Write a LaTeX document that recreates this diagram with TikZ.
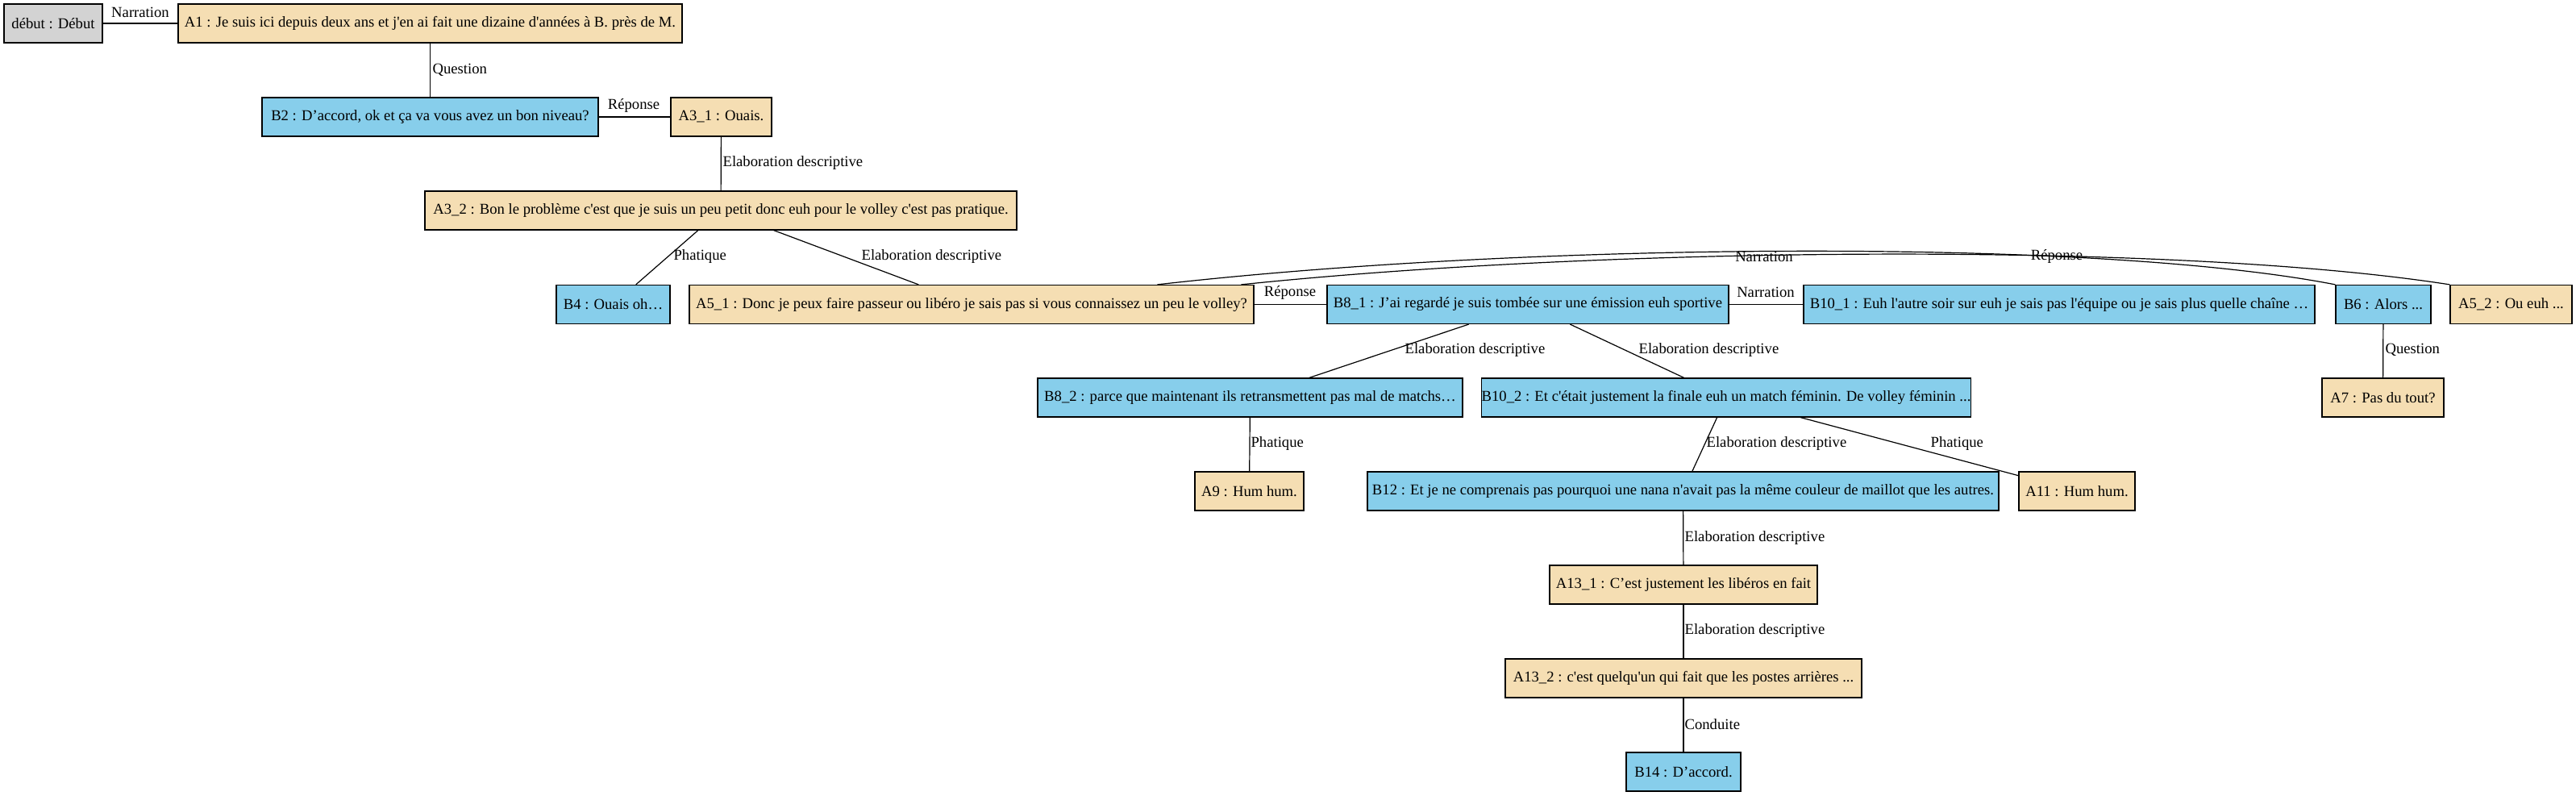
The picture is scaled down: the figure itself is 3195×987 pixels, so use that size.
\documentclass[tikz,border=0pt]{standalone}
\usepackage{fontspec}
\setmainfont{Liberation Serif}[Ligatures=TeXOff]
\usetikzlibrary{calc}
\definecolor{wheatc}{HTML}{F5DEB3}
\definecolor{skyc}{HTML}{87CEEB}
\definecolor{grayc}{HTML}{D3D3D3}
\begin{document}
\begin{tikzpicture}[x=0.75pt,y=-0.75pt,
  base/.style={draw=black, line width=0.9pt, minimum height=36pt, inner sep=0pt, font=\fontsize{14pt}{16pt}\selectfont, anchor=center},
  abox/.style={base, fill=wheatc},
  bbox/.style={base, fill=skyc},
  gbox/.style={base, fill=grayc},
  lbl/.style={inner sep=0pt, font=\fontsize{14pt}{16pt}\selectfont},
  edge/.style={draw=black, line width=0.9pt}]
\useasboundingbox (0,0) rectangle (3195,987);
% nodes
\node[gbox, minimum width=91.5pt] (debut) at (66,29) {début : Début};
\node[abox, minimum width=468.75pt] (A1) at (533.5,29) {A1 : Je suis ici depuis deux ans et j'en ai fait une dizaine d'années à B. près de M.};
\node[bbox, minimum width=312.75pt] (B2) at (533.5,145) {B2 : D’accord, ok et ça va vous avez un bon niveau?};
\node[abox, minimum width=93.75pt] (A31) at (894.5,145) {A3\_1 : Ouais.};
\node[abox, minimum width=550.5pt] (A32) at (894,261) {A3\_2 : Bon le problème c'est que je suis un peu petit donc euh pour le volley c'est pas pratique.};
\node[bbox, minimum width=105.75pt] (B4) at (760.5,377.5) {B4 : Ouais oh…};
\node[abox, minimum width=525pt] (A51) at (1205,377.5) {A5\_1 : Donc je peux faire passeur ou libéro je sais pas si vous connaissez un peu le volley?};
\node[bbox, minimum width=373.5pt] (B81) at (1895,377.5) {B8\_1 : J’ai regardé je suis tombée sur une émission euh sportive};
\node[bbox, minimum width=475.5pt] (B101) at (2554,377.5) {B10\_1 : Euh l'autre soir sur euh je sais pas l'équipe ou je sais plus quelle chaîne …};
\node[bbox, minimum width=88.5pt] (B6) at (2956,377.5) {B6 : Alors ...};
\node[abox, minimum width=113.25pt] (A52) at (3114.5,377.5) {A5\_2 : Ou euh ...};
\node[abox, minimum width=113.25pt] (A7) at (2955.5,493) {A7 : Pas du tout?};
\node[bbox, minimum width=395.25pt] (B82) at (1550.5,493) {B8\_2 : parce que maintenant ils retransmettent pas mal de matchs…};
\node[bbox, minimum width=454.5pt] (B102) at (2141,493) {B10\_2 : Et c'était justement la finale euh un match féminin. De volley féminin ...};
\node[abox, minimum width=101.25pt] (A9) at (1549.5,609) {A9 : Hum hum.};
\node[bbox, minimum width=587.25pt] (B12) at (2087.5,609) {B12 : Et je ne comprenais pas pourquoi une nana n'avait pas la même couleur de maillot que les autres.};
\node[abox, minimum width=108pt] (A11) at (2576,609) {A11 : Hum hum.};
\node[abox, minimum width=249pt] (A131) at (2088,725) {A13\_1 : C’est justement les libéros en fait};
\node[abox, minimum width=331.5pt] (A132) at (2088,841) {A13\_2 : c'est quelqu'un qui fait que les postes arrières ...};
\node[bbox, minimum width=106.5pt] (B14) at (2088,957) {B14 : D’accord.};
% edges
\draw[edge] (debut) -- (A1) node[lbl] at (174,15) {Narration};
\draw[edge] (A1) -- (B2) node[lbl, anchor=west] at (536,87) {Question};
\draw[edge] (B2) -- (A31) node[lbl] at (786,131) {Réponse};
\draw[edge] (A31) -- (A32) node[lbl, anchor=west] at (896,202) {Elaboration descriptive};
\draw[edge] (A32) -- (B4) node[lbl, anchor=west] at (835,318) {Phatique};
\draw[edge] (A32) -- (A51) node[lbl, anchor=west] at (1068,318) {Elaboration descriptive};
\draw[edge] (A51) -- (B81) node[lbl] at (1600,363) {Réponse};
\draw[edge] (B81) -- (B101) node[lbl] at (2190,362) {Narration};
\draw[edge] ($(A51.north west)+(581,0)$) .. controls (1900,300) and (2600,295) .. (B6.north west) node[lbl] at (2551,318) {Réponse};
\draw[edge] ($(A51.north west)+(685,0)$) .. controls (2000,305) and (2700,300) .. (A52.north west) node[lbl] at (2188,318) {Narration};
\draw[edge] (B81) -- (B82) node[lbl, anchor=west] at (1742,434) {Elaboration descriptive};
\draw[edge] (B81) -- (B102) node[lbl, anchor=west] at (2032,434) {Elaboration descriptive};
\draw[edge] (B6) -- (A7) node[lbl, anchor=west] at (2958,434) {Question};
\draw[edge] (B82) -- (A9) node[lbl, anchor=west] at (1551,550) {Phatique};
\draw[edge] (B102) -- (B12) node[lbl, anchor=west] at (2116,550) {Elaboration descriptive};
\draw[edge] (B102) -- (A11) node[lbl, anchor=west] at (2394,550) {Phatique};
\draw[edge] (B12) -- (A131) node[lbl, anchor=west] at (2089,667) {Elaboration descriptive};
\draw[edge] (A131) -- (A132) node[lbl, anchor=west] at (2089,782) {Elaboration descriptive};
\draw[edge] (A132) -- (B14) node[lbl, anchor=west] at (2089,898) {Conduite};
\end{tikzpicture}
\end{document}
